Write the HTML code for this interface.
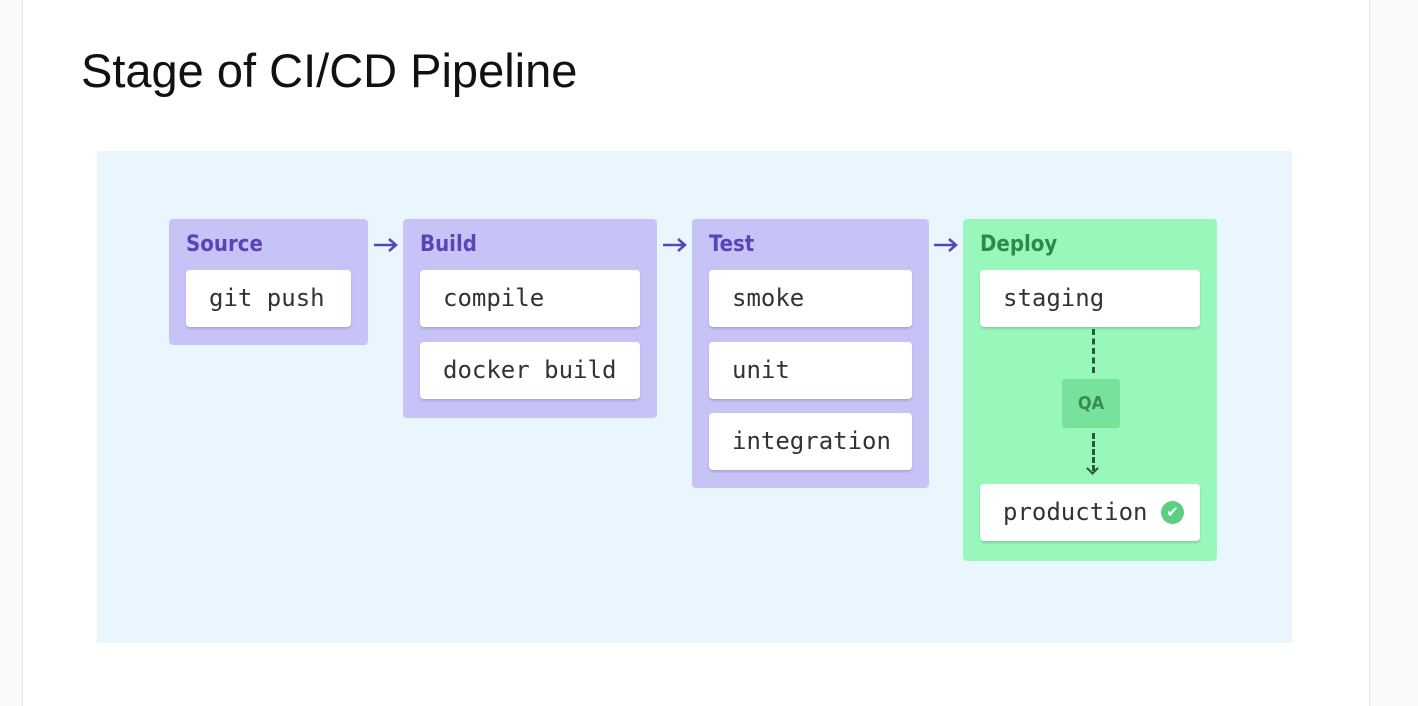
<!DOCTYPE html>
<html><head><style>
body{margin:0;width:1418px;height:706px;background:#f8f9fa;position:relative;overflow:hidden;font-family:"Liberation Sans",sans-serif}
.page{position:absolute;left:22px;top:0;width:1346px;height:706px;background:#fff;border-left:1px solid #e3e3e3;border-right:1px solid #e3e3e3}
.title{position:absolute;left:81px;top:43px;font-size:47px;color:#111}
.bg{position:absolute;left:97px;top:151px;width:1195px;height:492px;background:#eaf6fd}
.st{position:absolute;background:#c8c3f7;border-radius:4px}
.st.g{background:#98f8bb}
.lbl{position:absolute;left:17px;top:13px;font-weight:bold;font-size:22px;color:#5a44b8;font-family:"DejaVu Sans Condensed","Liberation Sans",sans-serif}
.g .lbl{color:#2f8a4a}
.c{position:absolute;background:#fff;border-radius:4px;box-shadow:0 2px 2px rgba(0,0,0,.15);font-family:"DejaVu Sans Mono","Liberation Mono",monospace;font-size:24px;color:#333;line-height:57px;padding-left:23px;box-sizing:border-box;height:57px}
.ar{position:absolute;top:236px}
</style></head><body>
<div class="page"></div>
<div class="title">Stage of CI/CD Pipeline</div>
<div class="bg"></div>
<div class="st" style="left:169px;top:219px;width:199px;height:126px"><div class="lbl">Source</div></div>
<div class="c" style="left:186px;top:270px;width:165px">git push</div>
<div class="st" style="left:403px;top:219px;width:254px;height:199px"><div class="lbl">Build</div></div>
<div class="c" style="left:420px;top:270px;width:220px">compile</div>
<div class="c" style="left:420px;top:342px;width:220px">docker build</div>
<div class="st" style="left:692px;top:219px;width:237px;height:269px"><div class="lbl">Test</div></div>
<div class="c" style="left:709px;top:270px;width:203px">smoke</div>
<div class="c" style="left:709px;top:342px;width:203px">unit</div>
<div class="c" style="left:709px;top:413px;width:203px">integration</div>
<div class="st g" style="left:963px;top:219px;width:254px;height:342px"><div class="lbl">Deploy</div></div>
<div class="c" style="left:980px;top:270px;width:220px">staging</div>
<div class="c" style="left:980px;top:484px;width:220px">production<span style="position:absolute;left:181px;top:17px;width:23px;height:23px;border-radius:50%;background:#5ccf85;color:#fff;font-size:15px;line-height:23px;text-align:center;font-family:'DejaVu Sans',sans-serif">✔</span></div>
<div style="position:absolute;left:1062px;top:379px;width:58px;height:49px;background:#78e29c;border-radius:3px;color:#3a8a55;font-weight:bold;font-size:18px;line-height:49px;text-align:center;font-family:'DejaVu Sans Condensed',sans-serif">QA</div>
<div style="position:absolute;left:1092px;top:329px;height:44px;border-left:3px dashed #2a5a3a"></div>
<div style="position:absolute;left:1092px;top:433px;height:38px;border-left:3px dashed #2a5a3a"></div>
<div style="position:absolute;left:1088px;top:464px;width:7px;height:7px;border-right:2px solid #2a5a3a;border-bottom:2px solid #2a5a3a;transform:rotate(45deg)"></div>
<svg class="ar" style="left:372px" width="28" height="18"><path d="M2 9H24M17 3L24 9L17 15" stroke="#5a44b8" stroke-width="2.5" fill="none"/></svg>
<svg class="ar" style="left:661px" width="28" height="18"><path d="M2 9H24M17 3L24 9L17 15" stroke="#5a44b8" stroke-width="2.5" fill="none"/></svg>
<svg class="ar" style="left:932px" width="28" height="18"><path d="M2 9H24M17 3L24 9L17 15" stroke="#5a44b8" stroke-width="2.5" fill="none"/></svg>
</body></html>
